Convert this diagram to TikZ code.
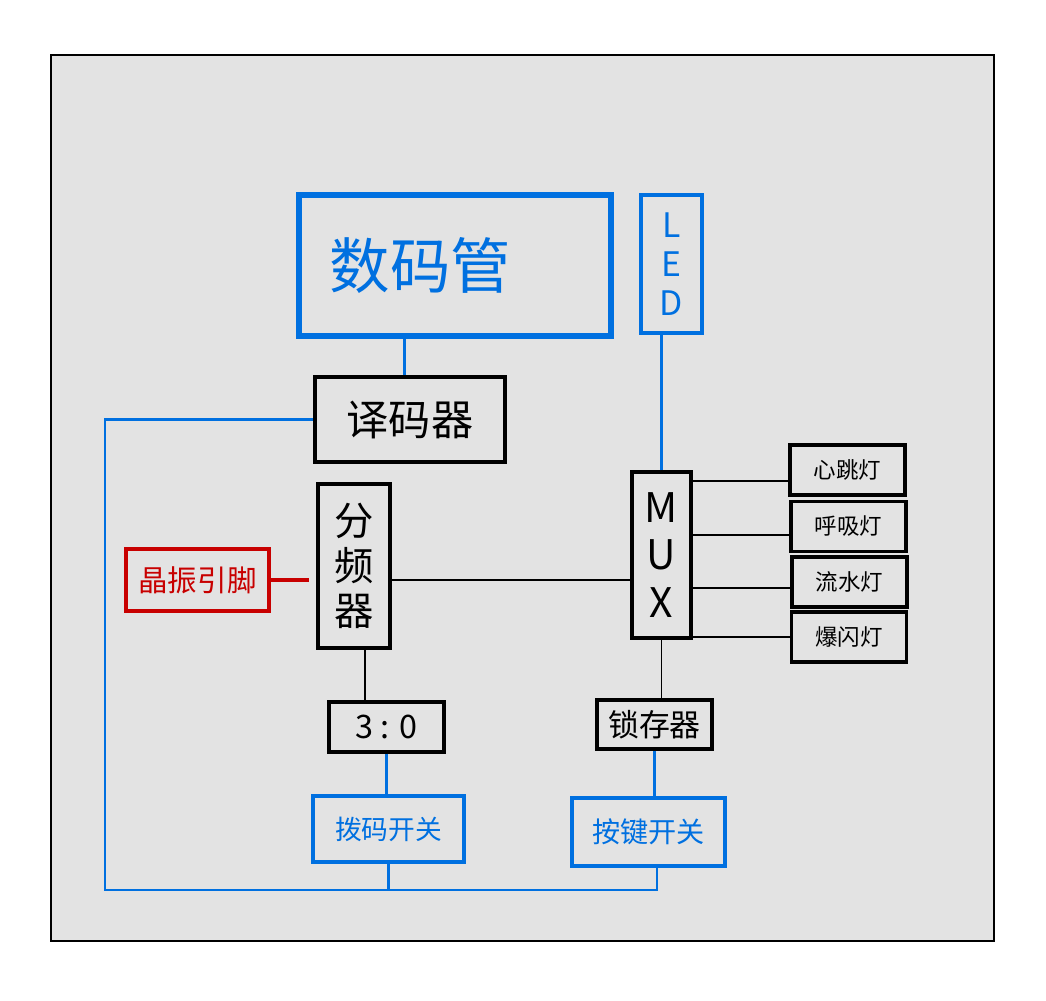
\documentclass[tikz,border=0pt]{standalone}
\usepackage{fontspec}
\usepackage{xcolor}
\usepackage{tikz}
\newfontfamily\cjk{Noto Sans CJK SC}
\usetikzlibrary{
    arrows,
    positioning
}
\definecolor{penblue}{RGB}{0,112,224}
\definecolor{penred}{RGB}{200,0,0}
\definecolor{paper}{RGB}{227,227,227}

\begin{document}
\begin{tikzpicture}[x=0.025cm,y=-0.025cm,semithick]
    \tikzstyle{box}=[shape=rectangle, draw, line width=2.4pt, align=center, inner sep=0pt, font=\cjk]
    \tikzstyle{bluebox}=[box, draw=penblue, text=penblue]
    \tikzstyle{blackbox}=[box, draw=black]
    \tikzstyle{lamp}=[blackbox, minimum width=2.875cm, minimum height=1.25cm, font=\cjk\fontsize{16}{18}\selectfont]
    \tikzstyle{wire}=[draw=black, line width=1.4pt]
    \tikzstyle{bus}=[draw=penblue, line width=2pt]
    \useasboundingbox (0,0) rectangle (1046,1000);
	\draw [fill=paper, line width=1.5pt] (51,55) rectangle (994,941);

	\node [bluebox, line width=4.5pt, minimum width=7.8cm, minimum height=3.525cm, text width=6.25cm, align=left, font=\cjk\fontsize{43}{46}\selectfont] (shuma) at (455,265.5) {数码管};
	\node [bluebox, minimum width=1.525cm, minimum height=3.45cm, font=\cjk\fontsize{24}{28}\selectfont] (led) at (671.5,264) {L\\E\\D};

	\node [blackbox, line width=3pt, minimum width=4.75cm, minimum height=2.125cm, font=\cjk\fontsize{30}{32}\selectfont] (yima) at (410,419.5) {译码器};
	\node [blackbox, line width=3pt, minimum width=1.8cm, minimum height=4.1cm, font=\cjk\fontsize{28}{32}\selectfont] (fenpin) at (354,566) {分\\频\\器};
	\node [box, draw=penred, text=penred, minimum width=3.575cm, minimum height=1.55cm, font=\cjk\fontsize{21}{24}\selectfont] (jingzhen) at (197.5,580) {晶振引脚};

	\node [blackbox, minimum width=1.475cm, minimum height=4.15cm, font=\cjk\fontsize{29}{34}\selectfont] (mux) at (661.5,555) {M\\U\\X};
	\node [lamp] (xintiao) at (847.5,470) {心跳灯};
	\node [lamp] (huxi) at (848.5,526.5) {呼吸灯};
	\node [lamp] (liushui) at (849.5,582) {流水灯};
	\node [lamp] (baoshan) at (849,637) {爆闪灯};

	\node [blackbox, minimum width=2.875cm, minimum height=1.25cm, font=\cjk\fontsize{23}{26}\selectfont] (sanling) at (386.5,727) {3 : 0};
	\node [blackbox, minimum width=2.875cm, minimum height=1.225cm, font=\cjk\fontsize{22}{26}\selectfont] (suocun) at (654.5,724.5) {锁存器};

	\node [bluebox, minimum width=3.775cm, minimum height=1.65cm, font=\cjk\fontsize{19}{22}\selectfont] (boma) at (388.5,829) {拨码开关};
	\node [bluebox, minimum width=3.825cm, minimum height=1.7cm, font=\cjk\fontsize{20}{22}\selectfont] (anjian) at (648.5,832) {按键开关};

	% blue links
	\draw [bus] ([xshift=-4pt]yima.north) -- ([xshift=-4pt]yima.north |- shuma.south);
	\draw [bus] (mux.north) -- (mux.north |- led.south);
	\draw [bus] (sanling.south) -- (sanling.south |- boma.north);
	\draw [bus] (suocun.south) -- (suocun.south |- anjian.north);
	\coordinate (busL) at (105,890);
	\draw [bus] (yima.west) -| (busL) -- ([xshift=6pt]anjian.south |- busL) -- ([xshift=6pt]anjian.south);
	\draw [bus] (boma.south) -- (boma.south |- busL);

	% black links
	\draw [wire] ([xshift=8pt]fenpin.south) -- ([xshift=8pt]fenpin.south |- sanling.north);
	\draw [wire] (mux.south) -- (mux.south |- suocun.north);
	\draw [wire] (fenpin.east |- jingzhen) -- (mux.west |- jingzhen);
	\draw [draw=penred, line width=3pt] (jingzhen.east) -- ([xshift=-5pt]fenpin.west |- jingzhen);
	\draw [wire] ([yshift=-8pt]mux.east |- xintiao) -- ([yshift=-8pt]xintiao.west);
	\draw [wire] ([yshift=-6pt]mux.east |- huxi) -- ([yshift=-6pt]huxi.west);
	\draw [wire] ([yshift=-4pt]mux.east |- liushui) -- ([yshift=-4pt]liushui.west);
	\draw [wire] (mux.east |- baoshan) -- (baoshan.west);
\end{tikzpicture}
\end{document}
